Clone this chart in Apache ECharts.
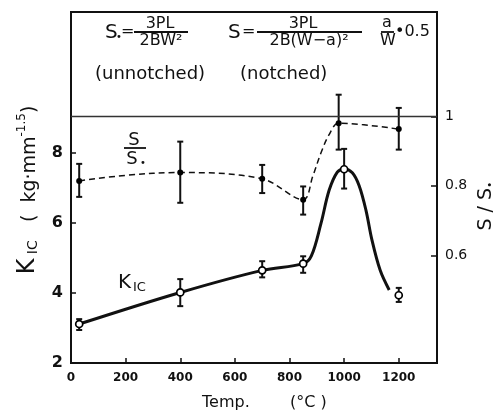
<!DOCTYPE html>
<html>
<head>
<meta charset="utf-8">
<script src="https://cdn.jsdelivr.net/npm/echarts@6/dist/echarts.min.js"></script>
<style>html,body{margin:0;padding:0;background:#fff;}#c{width:493px;height:414px;}</style>
</head>
<body>
<div id="c"></div>
<script>
// ---- data ----
const xTicks = [0, 200, 400, 600, 800, 1000, 1200];
const kTicks = [2, 4, 6, 8];
const rTicks = [0.6, 0.8, 1];

// K1C measured points (open circles)
const kTemp = [30, 400, 700, 850, 1000, 1200];
const kVal  = [3.11, 4.01, 4.64, 4.83, 7.52, 3.93];
const kLow  = [2.94, 3.62, 4.44, 4.57, 6.97, 3.74];
const kHigh = [3.25, 4.39, 4.90, 5.04, 8.10, 4.14];

// K1C drawn curve
const kCurveTemp = [30, 400, 700, 850, 880, 915, 945, 975, 1000, 1030, 1055, 1080, 1102, 1132, 1165];
const kCurveVal  = [3.11, 4.01, 4.64, 4.83, 5.05, 5.97, 6.92, 7.44, 7.53, 7.42, 7.05, 6.35, 5.5, 4.64, 4.08];

// S/S0 measured points (filled dots)
const sTemp = [30, 400, 700, 850, 980, 1200];
const sVal  = [0.814, 0.838, 0.820, 0.760, 0.980, 0.963];
const sLow  = [0.768, 0.751, 0.779, 0.717, 0.904, 0.904];
const sHigh = [0.863, 0.927, 0.860, 0.798, 1.062, 1.024];

// S/S0 drawn dashed curve
const sCurveTemp = [30, 200, 400, 700, 850, 885, 915, 945, 980, 1200];
const sCurveVal  = [0.814, 0.830, 0.838, 0.820, 0.760, 0.827, 0.894, 0.947, 0.980, 0.963];

const refLine = [1];

const INK = '#111';
const FONT = 'DejaVu Sans';

function errBars(lineW, capW) {
  return function (params, api) {
    const x = api.value(0), lo = api.value(1), hi = api.value(2);
    const a = api.coord([x, lo]), b = api.coord([x, hi]);
    const st = { stroke: INK, lineWidth: lineW };
    return { type: 'group', children: [
      { type: 'line', shape: { x1: a[0], y1: a[1], x2: b[0], y2: b[1] }, style: st },
      { type: 'line', shape: { x1: a[0] - capW, y1: a[1], x2: a[0] + capW, y2: a[1] }, style: st },
      { type: 'line', shape: { x1: b[0] - capW, y1: b[1], x2: b[0] + capW, y2: b[1] }, style: st }
    ]};
  };
}

const chart = echarts.init(document.getElementById('c'), null, { renderer: 'canvas' });

const txt = (x, y, text, size, align, extra) => Object.assign({
  type: 'text', x: x, y: y, z: 100,
  style: { text: text, fill: INK, font: size + 'px "' + FONT + '"', align: align || 'left', verticalAlign: 'middle' }
}, extra || {});
const bar = (x1, x2, y) => ({ type: 'line', z: 100, shape: { x1: x1, y1: y, x2: x2, y2: y }, style: { stroke: INK, lineWidth: 1.8 } });

chart.setOption({
  animation: false,
  backgroundColor: '#fff',
  grid: { left: 71, right: 56, top: 12, bottom: 51, show: true, borderColor: INK, borderWidth: 2, outerBoundsMode: 'none' },
  xAxis: {
    type: 'value', min: 0, max: 1340,
    axisLine: { show: true, lineStyle: { color: INK, width: 2 } },
    axisTick: { show: true, inside: true, length: 5, customValues: xTicks, lineStyle: { color: INK, width: 1.5 } },
    axisLabel: { customValues: xTicks, color: INK, fontFamily: FONT, fontSize: 12, fontWeight: 'bold', margin: 9,
      formatter: v => String(v) },
    splitLine: { show: false }
  },
  yAxis: [{
    type: 'value', min: 2, max: 12, position: 'left',
    axisLine: { show: true, lineStyle: { color: INK, width: 2 } },
    axisTick: { show: true, inside: true, length: 5, customValues: kTicks, lineStyle: { color: INK, width: 1.5 } },
    axisLabel: { customValues: kTicks, color: INK, fontFamily: FONT, fontSize: 16, fontWeight: 'bold', margin: 8,
      formatter: v => String(v) },
    splitLine: { show: false }
  }, {
    type: 'value', min: 0.29, max: 1.30, position: 'right',
    axisLine: { show: true, lineStyle: { color: INK, width: 2 } },
    axisTick: { show: true, inside: true, length: 6, customValues: rTicks, lineStyle: { color: INK, width: 1.5 } },
    axisLabel: { customValues: rTicks, color: INK, fontFamily: FONT, fontSize: 14, margin: 8,
      formatter: v => (Math.abs(v - 1) < 1e-9 ? '1' : v.toFixed(1)) },
    splitLine: { show: false }
  }],
  series: [
    { type: 'line', yAxisIndex: 1, data: [], silent: true,
      markLine: { silent: true, symbol: 'none', label: { show: false },
        lineStyle: { color: '#333', width: 1.3, type: 'solid' },
        data: refLine.map(v => ({ yAxis: v })) } },
    { type: 'line', yAxisIndex: 0, smooth: 0.35, showSymbol: false,
      data: kCurveTemp.map((t, i) => [t, kCurveVal[i]]),
      lineStyle: { color: INK, width: 3 }, z: 2 },
    { type: 'line', yAxisIndex: 1, smooth: 0.35, showSymbol: false,
      data: sCurveTemp.map((t, i) => [t, sCurveVal[i]]),
      lineStyle: { color: INK, width: 1.5, type: [6, 4] }, z: 2 },
    { type: 'custom', yAxisIndex: 0, renderItem: errBars(2, 3), z: 3,
      data: kTemp.map((t, i) => [t, kLow[i], kHigh[i]]), encode: { x: 0, y: [1, 2] } },
    { type: 'custom', yAxisIndex: 1, renderItem: errBars(2, 3), z: 3,
      data: sTemp.map((t, i) => [t, sLow[i], sHigh[i]]), encode: { x: 0, y: [1, 2] } },
    { type: 'scatter', yAxisIndex: 0, symbol: 'circle', symbolSize: 7, z: 5,
      data: kTemp.map((t, i) => [t, kVal[i]]),
      itemStyle: { color: '#fff', borderColor: '#000', borderWidth: 1.7, opacity: 1 } },
    { type: 'scatter', yAxisIndex: 1, symbol: 'circle', symbolSize: 6, z: 5,
      data: sTemp.map((t, i) => [t, sVal[i]]),
      itemStyle: { color: '#000', opacity: 1 } }
  ],
  graphic: [
    // formula 1
    txt(105, 33, 'S', 20),
    txt(116, 37, '•', 10),
    txt(121, 32, '=', 16),
    txt(160, 24, '3PL', 16, 'center'),
    bar(134, 188, 32),
    txt(161, 41, '2BW²', 16, 'center'),
    // formula 2
    txt(228, 33, 'S', 20),
    txt(242, 32, '=', 16),
    txt(303, 24, '3PL', 16, 'center'),
    bar(257, 362, 32),
    txt(309, 41, '2B(W−a)²', 16, 'center'),
    // formula 3
    txt(387, 23, 'a', 16, 'center'),
    bar(381, 394, 32),
    txt(388, 41, 'W', 16, 'center'),
    txt(395, 32, '•0.5', 16),
    // captions
    txt(95, 74, '(unnotched)', 18),
    txt(240, 74, '(notched)', 18),
    // in-plot labels
    txt(134, 140, 'S', 18, 'center'),
    bar(124, 146, 148),
    txt(132, 159, 'S', 18, 'center'),
    txt(143, 163, '•', 10, 'center'),
    txt(118, 283, 'K', 20),
    txt(133, 288, 'IC', 13),
    // axis titles
    { type: 'text', x: 28, y: 190, rotation: Math.PI / 2, z: 100,
      style: { text: '{k|K}{s| IC}{n|   (  kg·mm}{p|-1.5}{n|)}', fill: INK, align: 'center', verticalAlign: 'middle',
        rich: {
          k: { fontSize: 24, fontFamily: FONT, fill: INK, verticalAlign: 'bottom' },
          s: { fontSize: 14, fontFamily: FONT, fill: INK, verticalAlign: 'bottom' },
          n: { fontSize: 19, fontFamily: FONT, fill: INK, verticalAlign: 'bottom' },
          p: { fontSize: 12, fontFamily: FONT, fill: INK, verticalAlign: 'top' }
        } } },
    { type: 'text', x: 486, y: 206, rotation: Math.PI / 2, z: 100,
      style: { text: '{n|S / S}{d|•}', fill: INK, align: 'center', verticalAlign: 'middle',
        rich: {
          n: { fontSize: 19, fontFamily: FONT, fill: INK, verticalAlign: 'bottom' },
          d: { fontSize: 11, fontFamily: FONT, fill: INK, verticalAlign: 'bottom' }
        } } },
    txt(202, 403, 'Temp.', 16),
    txt(290, 403, '(°C )', 16)
  ]
});
</script>
</body>
</html>
